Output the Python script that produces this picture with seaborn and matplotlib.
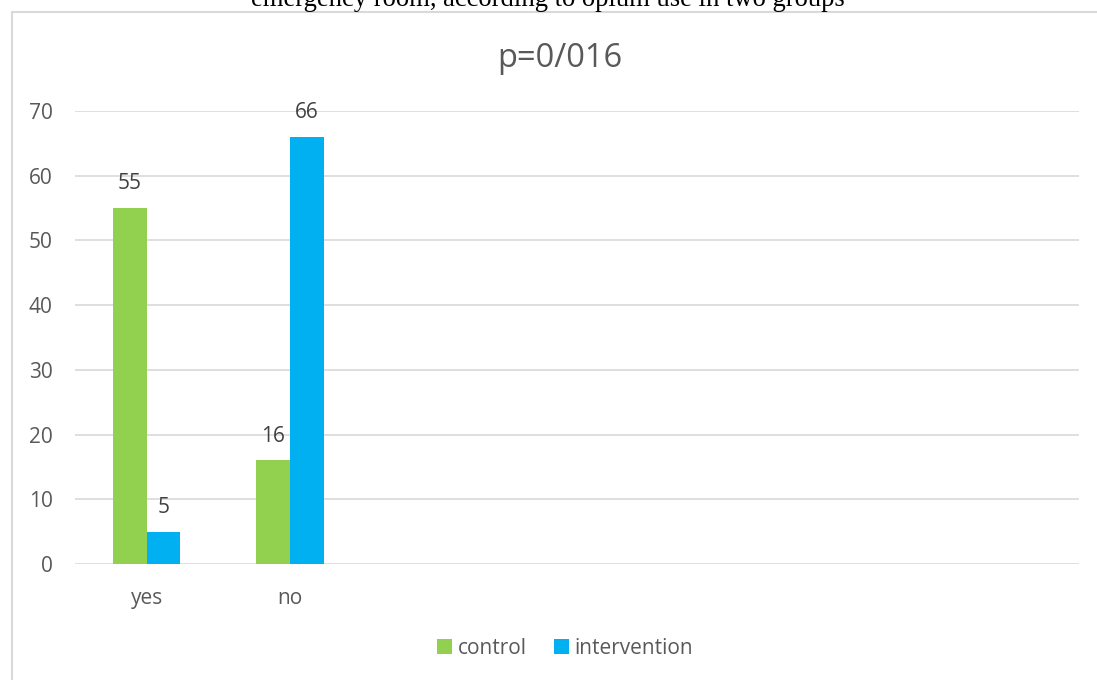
import matplotlib
matplotlib.use("Agg")
import matplotlib.pyplot as plt
from matplotlib.patches import Rectangle, Patch
import seaborn as sns
import pandas as pd

# Data
categories = ["yes", "no"]
groups = ["control", "intervention"]
control_values = [55, 16]
intervention_values = [5, 66]
colors = {"control": "#92D050", "intervention": "#00B0F0"}
title = "p=0/016"
caption = "emergency room, according to opium use in two groups"

df = pd.DataFrame({
    "category": categories * 2,
    "group": [groups[0]] * len(categories) + [groups[1]] * len(categories),
    "value": control_values + intervention_values,
})

sns.set_theme(style="white")
plt.rcParams["font.family"] = ["Open Sans", "DejaVu Sans"]

fig = plt.figure(figsize=(10.97, 6.8), dpi=100)
W, H = 1097, 680
ax = fig.add_axes([75 / W, 1 - 564 / H, (1079 - 75) / W, (564 - 111) / H])

sns.barplot(data=df, x="category", y="value", hue="group", order=categories,
            hue_order=groups, palette=colors, width=0.47, gap=0,
            saturation=1, edgecolor="none", linewidth=0, ax=ax, legend=False)

ax.set_xlim(-0.5, 6.5)
ax.set_ylim(0, 70)
ax.set_yticks(range(0, 71, 10))
ax.set_xlabel("")
ax.set_ylabel("")
ax.yaxis.grid(True, color="#D9D9D9", linewidth=1.2)
ax.set_axisbelow(True)
for s in ax.spines.values():
    s.set_visible(False)
ax.tick_params(axis="both", length=0, labelsize=15, colors="#595959")
ax.tick_params(axis="y", pad=16)
ax.tick_params(axis="x", pad=17)

for cont in ax.containers:
    ax.bar_label(cont, padding=10, fontsize=15, color="#404040")

fig.text(560 / W, 1 - 67 / H, title, ha="center", va="baseline",
         fontsize=23.5, color="#595959")

handles = [Patch(facecolor=colors[g], edgecolor="none", label=g) for g in groups]
fig.legend(handles=handles, loc="center", bbox_to_anchor=(565 / W, 1 - 648 / H),
           ncol=2, frameon=False, fontsize=15, handlelength=0.75, handleheight=0.75,
           handletextpad=0.25, columnspacing=1.3, labelcolor="#595959")

# chart border
fig.patches.append(Rectangle((12 / W, -0.05), 1.2, 1 - 12 / H + 0.05,
                             transform=fig.transFigure, fill=False,
                             edgecolor="#D9D9D9", linewidth=1.5))

fig.text(548 / W, 1 - 6 / H, caption, ha="center", va="baseline",
         fontsize=19.2, family="Liberation Serif", color="black")

fig.savefig("out.png", dpi=100, facecolor="white")
